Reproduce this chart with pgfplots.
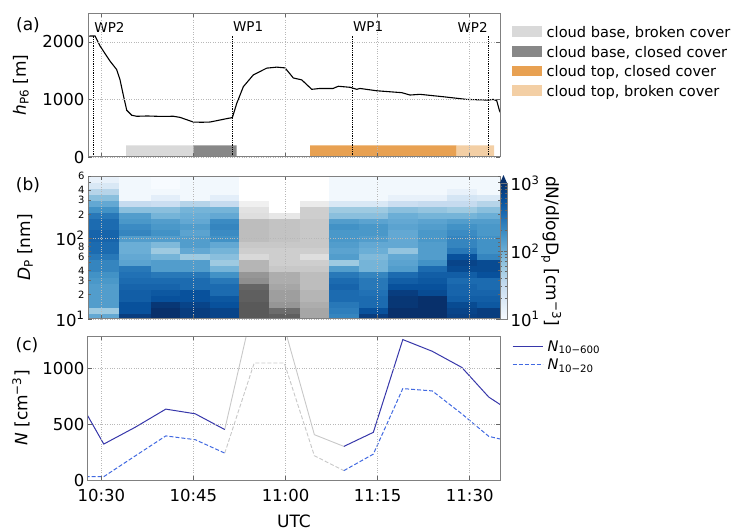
\documentclass[border=0pt]{standalone}
\usepackage{pgfplots}
\pgfplotsset{compat=1.18}
\usepackage{fontspec}
\setmainfont{DejaVu Sans}
\definecolor{cbb}{RGB}{217,217,217}
\definecolor{cbc}{RGB}{136,136,136}
\definecolor{ctc}{RGB}{232,161,82}
\definecolor{ctb}{RGB}{243,207,165}
\definecolor{nsolid}{RGB}{55,55,170}
\definecolor{ndash}{RGB}{65,105,225}
\definecolor{lgrey}{RGB}{200,200,200}
\definecolor{navyb}{RGB}{8,48,107}
\pgfplotsset{
  colormap={myblues}{rgb255=(247,251,255) rgb255=(222,235,247) rgb255=(198,219,239) rgb255=(158,202,225) rgb255=(107,174,214) rgb255=(66,146,198) rgb255=(33,113,181) rgb255=(8,81,156) rgb255=(8,48,107)},
  colormap={mygreys}{rgb255=(255,255,255) rgb255=(240,240,240) rgb255=(217,217,217) rgb255=(189,189,189) rgb255=(150,150,150) rgb255=(115,115,115) rgb255=(82,82,82) rgb255=(37,37,37) rgb255=(0,0,0)},
  panel/.style={
    scale only axis, width=412pt, height=144pt, anchor=south west,
    xmin=27.83, xmax=94.93,
    xtick={30,45,60,75,90},
    grid=major, grid style={dotted, black!28, line width=0.6pt},
    axis line style={black!50, line width=1pt},
    tick style={black!60, line width=0.6pt},
    major tick length=4pt, minor tick length=2.5pt,
    tick label style={font=\fontsize{16.5pt}{19pt}\selectfont},
    label style={font=\fontsize{17pt}{20pt}\selectfont},
    /pgf/number format/assume math mode=true,
    /pgf/number format/1000 sep={},
    axis on top,
  },
}
\begin{document}
\begin{tikzpicture}
\path[use as bounding box] (0pt,0pt) rectangle (739pt,531pt);
% ---------------- panel (a)
\begin{axis}[panel, at={(88pt,374pt)},
  ymin=0, ymax=2500, ytick={0,1000,2000}, xticklabels={},
  ylabel={\textit{h}\textsubscript{P6} [m]},
  ylabel style={at={(axis description cs:-0.163,0.5)}, anchor=center},
  legend style={at={(1,1)}, anchor=north west, xshift=9pt, yshift=-10pt, draw=none, fill=none,
    font=\fontsize{14.6pt}{17.5pt}\selectfont, row sep=4pt, nodes={inner sep=1.5pt},
    column sep=3pt},
  legend cell align=left,
  legend image code/.code={\path[#1] (0pt,-4pt) rectangle (30pt,6.5pt);},
]
\addplot[fill=cbb, draw=none] coordinates {(34.02,0) (34.02,200) (44.98,200) (44.98,0)} \closedcycle;
\addlegendentry{cloud base, broken cover}
\addplot[fill=cbc, draw=none] coordinates {(44.98,0) (44.98,200) (52.05,200) (52.05,0)} \closedcycle;
\addlegendentry{cloud base, closed cover}
\addplot[fill=ctc, draw=none] coordinates {(64.0,0) (64.0,200) (87.88,200) (87.88,0)} \closedcycle;
\addlegendentry{cloud top, closed cover}
\addplot[fill=ctb, draw=none] coordinates {(87.88,0) (87.88,200) (93.96,200) (93.96,0)} \closedcycle;
\addlegendentry{cloud top, broken cover}
\addplot[black, line width=1.1pt, forget plot] coordinates {
(27.5,2098) (28.97,2102) (29.79,1927) (31.42,1664) (32.5,1518) (33.05,1339) (33.58,1075)
(34.14,812) (34.95,725) (35.77,707) (37.5,712) (39.56,705) (41.73,707) (42.82,688)
(44.98,607) (46.3,603) (47.70,607) (50.42,666) (51.34,684) (52.05,930) (53.13,1221)
(54.76,1426) (56.94,1543) (58.57,1560) (59.92,1547) (61.27,1372) (62.64,1339) (64.27,1175)
(65.62,1190) (67.74,1190) (68.60,1228) (70.51,1210) (71.60,1175) (72.13,1190) (74.85,1150)
(78.92,1117) (80.28,1076) (81.91,1088) (85.70,1046) (89.51,1000) (93.03,988) (93.84,1000)
(94.40,977) (94.82,813) (95.1,750)};
\addplot[black, densely dotted, line width=0.8pt, forget plot] coordinates {(28.76,0) (28.76,2100)};
\addplot[black, densely dotted, line width=0.8pt, forget plot] coordinates {(51.34,0) (51.34,2100)};
\addplot[black, densely dotted, line width=0.8pt, forget plot] coordinates {(70.88,0) (70.88,2100)};
\addplot[black, densely dotted, line width=0.8pt, forget plot] coordinates {(93.03,0) (93.03,2100)};
\node[anchor=west, inner sep=0.5pt, font=\fontsize{13.5pt}{16pt}\selectfont] at (axis cs:28.76,2256) {WP2};
\node[anchor=west, inner sep=0.5pt, font=\fontsize{13.5pt}{16pt}\selectfont] at (axis cs:51.34,2256) {WP1};
\node[anchor=west, inner sep=0.5pt, font=\fontsize{13.5pt}{16pt}\selectfont] at (axis cs:70.88,2256) {WP1};
\node[anchor=east, inner sep=0.5pt, font=\fontsize{13.5pt}{16pt}\selectfont] at (axis cs:93.03,2256) {WP2};
\end{axis}
% ---------------- panel (b)
\begin{axis}[panel, at={(88pt,212pt)}, height=143pt,
  ymode=log, ymin=10, ymax=600,
  ytick={10,100}, yticklabels={10\textsuperscript{1},10\textsuperscript{2}},
  extra y ticks={20,30,40,60,80,200,300,400,600},
  extra y tick labels={2,3,4,6,8,2,3,4,6},
  extra y tick style={grid=none, major tick length=2.5pt,
    tick label style={font=\fontsize{10pt}{12pt}\selectfont}},
  minor ytick={50,70,90,500},
  xticklabels={},
  ylabel={\textit{D}\textsubscript{P} [nm]},
  ylabel style={at={(axis description cs:-0.153,0.5)}, anchor=center},
  colormap name=myblues, point meta min=1, point meta max=3,
  colorbar,
  colorbar style={at={(1,0)}, anchor=south west, xshift=9pt,
    scale only axis, width=7pt, height=136pt,
    axis line style={black!50, line width=0.8pt},
    tick style={black!60, line width=0.5pt},
    major tick length=3pt, minor tick length=1.8pt,
    ytick={1,2,3}, yticklabels={10\textsuperscript{1},10\textsuperscript{2},10\textsuperscript{3}},
    minor ytick={1.301,1.477,1.602,1.699,1.778,1.845,1.903,1.954,2.301,2.477,2.602,2.699,2.778,2.845,2.903,2.954},
    yticklabel style={font=\fontsize{16.5pt}{19pt}\selectfont},
    ylabel={dN/dlogD\textsubscript{p} [cm\textsuperscript{−3}]},
    ylabel style={font=\fontsize{17pt}{20pt}\selectfont, at={(axis description cs:7.3,0.5)}, anchor=center, rotate=180},
    after end axis/.code={\fill[navyb] (rel axis cs:0,1) -- (rel axis cs:1,1) -- ++(-3.5pt,8pt) -- cycle;},
  },
]
\addplot[surf, shader=flat corner, mesh/ordering=y varies, mesh/rows=25, mesh/cols=6, point meta=explicit]
 table[x=x, y=y, meta=c] {
x y c
27.5 10 2.05
27.5 11.86 1.75
27.5 14.07 2.15
27.5 16.68 2.15
27.5 19.79 2.15
27.5 23.47 2.15
27.5 27.83 2.2
27.5 33.00 2.25
27.5 39.14 2.35
27.5 46.42 2.35
27.5 55.05 2.45
27.5 65.29 2.55
27.5 77.43 2.55
27.5 91.83 2.6
27.5 108.9 2.6
27.5 129.2 2.55
27.5 153.2 2.55
27.5 181.7 2.45
27.5 215.5 2.25
27.5 255.6 2.05
27.5 303.1 1.85
27.5 359.5 1.6
27.5 426.4 1.3
27.5 505.7 1.15
27.5 600 1.15
32.88 10 2.9
32.88 11.86 2.75
32.88 14.07 2.75
32.88 16.68 2.65
32.88 19.79 2.65
32.88 23.47 2.6
32.88 27.83 2.55
32.88 33.00 2.5
32.88 39.14 2.45
32.88 46.42 2.1
32.88 55.05 2.05
32.88 65.29 2.0
32.88 77.43 2.0
32.88 91.83 2.15
32.88 108.9 2.35
32.88 129.2 2.3
32.88 153.2 2.2
32.88 181.7 2.15
32.88 215.5 1.85
32.88 255.6 1.5
32.88 303.1 1.05
32.88 359.5 1.05
32.88 426.4 1.05
32.88 505.7 1.05
32.88 600 1.05
38.09 10 3.0
38.09 11.86 3.0
38.09 14.07 2.95
38.09 16.68 2.75
38.09 19.79 2.7
38.09 23.47 2.6
38.09 27.83 2.55
38.09 33.00 2.45
38.09 39.14 2.15
38.09 46.42 2.15
38.09 55.05 1.95
38.09 65.29 1.75
38.09 77.43 1.9
38.09 91.83 2.15
38.09 108.9 2.25
38.09 129.2 2.2
38.09 153.2 2.15
38.09 181.7 1.95
38.09 215.5 1.85
38.09 255.6 1.45
38.09 303.1 1.2
38.09 359.5 1.05
38.09 426.4 0.9
38.09 505.7 1.0
38.09 600 1.0
42.82 10 2.9
42.82 11.86 2.9
42.82 14.07 2.85
42.82 16.68 2.75
42.82 19.79 2.75
42.82 23.47 2.55
42.82 27.83 2.55
42.82 33.00 2.45
42.82 39.14 2.15
42.82 46.42 2.15
42.82 55.05 1.75
42.82 65.29 2.05
42.82 77.43 2.15
42.82 91.83 2.15
42.82 108.9 2.1
42.82 129.2 2.15
42.82 153.2 2.05
42.82 181.7 2.0
42.82 215.5 1.95
42.82 255.6 1.6
42.82 303.1 1.05
42.82 359.5 1.05
42.82 426.4 1.05
42.82 505.7 1.05
42.82 600 1.05
47.70 10 2.85
47.70 11.86 2.85
47.70 14.07 2.75
47.70 16.68 2.7
47.70 19.79 2.55
47.70 23.47 2.55
47.70 27.83 2.45
47.70 33.00 2.25
47.70 39.14 1.95
47.70 46.42 1.75
47.70 55.05 1.85
47.70 65.29 1.95
47.70 77.43 2.05
47.70 91.83 2.25
47.70 108.9 2.3
47.70 129.2 2.35
47.70 153.2 2.3
47.70 181.7 2.05
47.70 215.5 1.95
47.70 255.6 1.5
47.70 303.1 1.2
47.70 359.5 1.05
47.70 426.4 1.05
47.70 505.7 1.05
47.70 600 1.05
52.43 10 2.85
52.43 11.86 2.85
52.43 14.07 2.75
52.43 16.68 2.7
52.43 19.79 2.55
52.43 23.47 2.55
52.43 27.83 2.45
52.43 33.00 2.25
52.43 39.14 1.95
52.43 46.42 1.75
52.43 55.05 1.85
52.43 65.29 1.95
52.43 77.43 2.05
52.43 91.83 2.25
52.43 108.9 2.3
52.43 129.2 2.35
52.43 153.2 2.3
52.43 181.7 2.05
52.43 215.5 1.95
52.43 255.6 1.5
52.43 303.1 1.2
52.43 359.5 1.05
52.43 426.4 1.05
52.43 505.7 1.05
52.43 600 1.05
};
\addplot[surf, shader=flat corner, colormap name=mygreys, mesh/ordering=y varies, mesh/rows=25, mesh/cols=4, point meta=explicit]
 table[x=x, y=y, meta=c] {
x y c
52.43 10 2.45
52.43 11.86 2.45
52.43 14.07 2.45
52.43 16.68 2.4
52.43 19.79 2.4
52.43 23.47 2.35
52.43 27.83 2.05
52.43 33.00 2.0
52.43 39.14 1.8
52.43 46.42 1.8
52.43 55.05 1.5
52.43 65.29 1.6
52.43 77.43 1.65
52.43 91.83 1.75
52.43 108.9 1.75
52.43 129.2 1.75
52.43 153.2 1.75
52.43 181.7 1.45
52.43 215.5 1.4
52.43 255.6 1.25
52.43 303.1 1.0
52.43 359.5 0.9
52.43 426.4 0.9
52.43 505.7 0.9
52.43 600 0.9
57.31 10 2.4
57.31 11.86 2.3
57.31 14.07 2.0
57.31 16.68 1.95
57.31 19.79 1.95
57.31 23.47 1.9
57.31 27.83 1.85
57.31 33.00 1.85
57.31 39.14 1.65
57.31 46.42 1.6
57.31 55.05 1.6
57.31 65.29 1.6
57.31 77.43 1.65
57.31 91.83 1.7
57.31 108.9 1.7
57.31 129.2 1.7
57.31 153.2 1.7
57.31 181.7 1.35
57.31 215.5 1.0
57.31 255.6 0.9
57.31 303.1 0.9
57.31 359.5 0.9
57.31 426.4 0.9
57.31 505.7 0.9
57.31 600 0.9
62.36 10 1.9
62.36 11.86 1.9
62.36 14.07 1.85
62.36 16.68 1.8
62.36 19.79 1.8
62.36 23.47 1.75
62.36 27.83 1.75
62.36 33.00 1.75
62.36 39.14 1.65
62.36 46.42 1.6
62.36 55.05 1.45
62.36 65.29 1.6
62.36 77.43 1.65
62.36 91.83 1.65
62.36 108.9 1.65
62.36 129.2 1.65
62.36 153.2 1.65
62.36 181.7 1.6
62.36 215.5 1.6
62.36 255.6 1.3
62.36 303.1 0.95
62.36 359.5 0.95
62.36 426.4 0.95
62.36 505.7 0.95
62.36 600 0.95
67.08 10 1.9
67.08 11.86 1.9
67.08 14.07 1.85
67.08 16.68 1.8
67.08 19.79 1.8
67.08 23.47 1.75
67.08 27.83 1.75
67.08 33.00 1.75
67.08 39.14 1.65
67.08 46.42 1.6
67.08 55.05 1.45
67.08 65.29 1.6
67.08 77.43 1.65
67.08 91.83 1.65
67.08 108.9 1.65
67.08 129.2 1.65
67.08 153.2 1.65
67.08 181.7 1.6
67.08 215.5 1.6
67.08 255.6 1.3
67.08 303.1 0.95
67.08 359.5 0.95
67.08 426.4 0.95
67.08 505.7 0.95
67.08 600 0.95
};
\addplot[surf, shader=flat corner, mesh/ordering=y varies, mesh/rows=25, mesh/cols=7, point meta=explicit]
 table[x=x, y=y, meta=c] {
x y c
67.08 10 2.35
67.08 11.86 2.4
67.08 14.07 2.45
67.08 16.68 2.55
67.08 19.79 2.55
67.08 23.47 2.6
67.08 27.83 2.55
67.08 33.00 2.45
67.08 39.14 2.15
67.08 46.42 1.75
67.08 55.05 2.15
67.08 65.29 2.1
67.08 77.43 2.15
67.08 91.83 2.2
67.08 108.9 2.2
67.08 129.2 2.25
67.08 153.2 2.15
67.08 181.7 1.85
67.08 215.5 1.75
67.08 255.6 1.3
67.08 303.1 1.05
67.08 359.5 1.05
67.08 426.4 1.05
67.08 505.7 1.05
67.08 600 1.05
71.97 10 2.9
71.97 11.86 2.75
71.97 14.07 2.55
71.97 16.68 2.55
71.97 19.79 2.5
71.97 23.47 2.45
71.97 27.83 2.45
71.97 33.00 2.35
71.97 39.14 1.95
71.97 46.42 1.95
71.97 55.05 1.9
71.97 65.29 2.0
71.97 77.43 2.05
71.97 91.83 2.15
71.97 108.9 2.2
71.97 129.2 2.2
71.97 153.2 2.1
71.97 181.7 1.85
71.97 215.5 1.75
71.97 255.6 1.3
71.97 303.1 1.05
71.97 359.5 1.05
71.97 426.4 1.05
71.97 505.7 1.05
71.97 600 1.05
76.69 10 3.0
76.69 11.86 3.0
76.69 14.07 2.95
76.69 16.68 2.95
76.69 19.79 2.9
76.69 23.47 2.75
76.69 27.83 2.65
76.69 33.00 2.55
76.69 39.14 2.15
76.69 46.42 2.1
76.69 55.05 2.05
76.69 65.29 1.8
76.69 77.43 2.05
76.69 91.83 2.05
76.69 108.9 2.05
76.69 129.2 2.1
76.69 153.2 2.05
76.69 181.7 2.0
76.69 215.5 1.85
76.69 255.6 1.45
76.69 303.1 1.15
76.69 359.5 1.05
76.69 426.4 1.05
76.69 505.7 1.05
76.69 600 1.05
81.58 10 3.0
81.58 11.86 3.0
81.58 14.07 3.0
81.58 16.68 3.0
81.58 19.79 2.8
81.58 23.47 2.75
81.58 27.83 2.7
81.58 33.00 2.65
81.58 39.14 2.55
81.58 46.42 2.25
81.58 55.05 2.15
81.58 65.29 2.15
81.58 77.43 2.15
81.58 91.83 2.2
81.58 108.9 2.2
81.58 129.2 2.15
81.58 153.2 2.1
81.58 181.7 1.95
81.58 215.5 1.8
81.58 255.6 1.5
81.58 303.1 1.15
81.58 359.5 1.05
81.58 426.4 1.05
81.58 505.7 1.05
81.58 600 1.05
86.30 10 2.88
86.30 11.86 2.85
86.30 14.07 2.8
86.30 16.68 2.65
86.30 19.79 2.6
86.30 23.47 2.6
86.30 27.83 2.55
86.30 33.00 2.65
86.30 39.14 2.8
86.30 46.42 2.85
86.30 55.05 2.75
86.30 65.29 2.45
86.30 77.43 2.35
86.30 91.83 2.35
86.30 108.9 2.3
86.30 129.2 2.25
86.30 153.2 2.15
86.30 181.7 1.95
86.30 215.5 1.75
86.30 255.6 1.5
86.30 303.1 1.35
86.30 359.5 1.15
86.30 426.4 1.05
86.30 505.7 1.05
86.30 600 1.05
91.19 10 2.9
91.19 11.86 2.9
91.19 14.07 2.7
91.19 16.68 2.65
91.19 19.79 2.6
91.19 23.47 2.55
91.19 27.83 2.55
91.19 33.00 2.75
91.19 39.14 2.8
91.19 46.42 2.8
91.19 55.05 2.35
91.19 65.29 2.25
91.19 77.43 2.25
91.19 91.83 2.25
91.19 108.9 2.2
91.19 129.2 2.2
91.19 153.2 2.15
91.19 181.7 2.0
91.19 215.5 1.85
91.19 255.6 1.6
91.19 303.1 1.3
91.19 359.5 1.05
91.19 426.4 1.05
91.19 505.7 1.05
91.19 600 1.05
95.3 10 2.9
95.3 11.86 2.9
95.3 14.07 2.7
95.3 16.68 2.65
95.3 19.79 2.6
95.3 23.47 2.55
95.3 27.83 2.55
95.3 33.00 2.75
95.3 39.14 2.8
95.3 46.42 2.8
95.3 55.05 2.35
95.3 65.29 2.25
95.3 77.43 2.25
95.3 91.83 2.25
95.3 108.9 2.2
95.3 129.2 2.2
95.3 153.2 2.15
95.3 181.7 2.0
95.3 215.5 1.85
95.3 255.6 1.6
95.3 303.1 1.3
95.3 359.5 1.05
95.3 426.4 1.05
95.3 505.7 1.05
95.3 600 1.05
};
\end{axis}
% ---------------- panel (c)
\begin{axis}[panel, at={(88pt,51pt)},
  ymin=0, ymax=1290, ytick={0,500,1000},
  xticklabels={10:30,10:45,11:00,11:15,11:30},
  xticklabel style={yshift=-6pt},
  xlabel={UTC},
  xlabel style={at={(axis description cs:0.5,-0.285)}, anchor=center},
  ylabel={\textit{N} [cm\textsuperscript{−3}]},
  ylabel style={at={(axis description cs:-0.163,0.5)}, anchor=center},
  legend style={at={(1,1)}, anchor=north west, xshift=9pt, yshift=-1pt, draw=none, fill=none,
    font=\fontsize{14.6pt}{17.5pt}\selectfont, row sep=3pt, nodes={inner sep=1.5pt}, column sep=3pt},
  legend cell align=left,
  legend image code/.code={\draw[#1] (0pt,0pt) -- (30pt,0pt);},
]
\addplot[lgrey, line width=0.9pt, forget plot] coordinates {(50.1,452) (54.9,1600) (59.8,1370) (64.7,406) (69.5,301)};
\addplot[lgrey, line width=0.9pt, dash pattern=on 4pt off 2pt, forget plot] coordinates {(50.1,241) (54.9,1048) (59.8,1048) (64.7,217) (69.5,84)};
\addplot[nsolid, line width=1pt] coordinates {(25.5,796) (30.4,322) (35.5,472) (40.5,635) (45.3,593) (50.1,452)};
\addlegendentry{\textit{N}\textsubscript{10−600}}
\addplot[ndash, line width=1pt, dash pattern=on 4pt off 2pt] coordinates {(25.5,30) (30.4,30) (35.5,215) (40.5,395) (45.3,361) (50.1,241)};
\addlegendentry{\textit{N}\textsubscript{10−20}}
\addplot[nsolid, line width=1pt, forget plot] coordinates {(69.5,301) (74.3,427) (79.1,1258) (83.9,1153) (88.7,1009) (93.1,743) (98.0,566)};
\addplot[ndash, line width=1pt, dash pattern=on 4pt off 2pt, forget plot] coordinates {(69.5,84) (74.3,232) (79.1,819) (83.9,798) (88.7,593) (93.1,391) (98.0,328)};
\end{axis}
\node[font=\fontsize{17pt}{20pt}\selectfont] at (28pt,506pt) {(a)};
\node[font=\fontsize{17pt}{20pt}\selectfont] at (28pt,346pt) {(b)};
\node[font=\fontsize{17pt}{20pt}\selectfont] at (27pt,186pt) {(c)};
\end{tikzpicture}
\end{document}
